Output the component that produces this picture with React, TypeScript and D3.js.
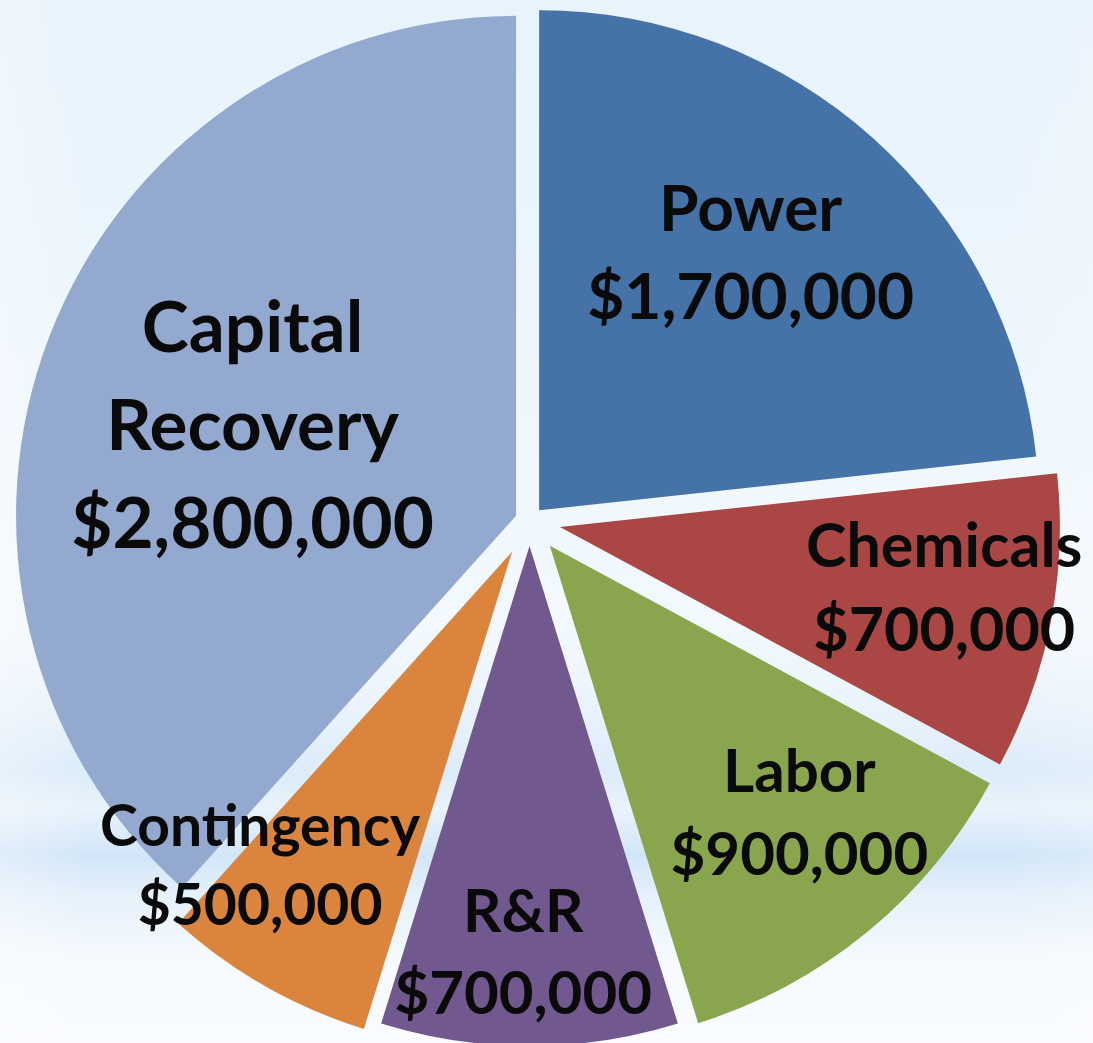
import React, { useEffect } from 'react';
import * as d3 from 'd3';

// ---- data ----
const categories = ["Power", "Chemicals", "Labor", "R&R", "Contingency", "Capital Recovery"];
const labelLines = [["Power"], ["Chemicals"], ["Labor"], ["R&R"], ["Contingency"], ["Capital", "Recovery"]];
const costs = [1700000, 700000, 900000, 700000, 500000, 2800000];

// ---- styles ----
const colors = ["#4572A7", "#AA4643", "#89A54E", "#71588F", "#DB843D", "#93A9CF"];
const explode = [14.4, 31, 32, 25, 35, 14.4];
const labelRadius = [331, 424, 413, 452, 453, 286];
const labelShiftDeg = [0, 0.9, -1.35, 0.8, 6.9, -6.5];
const labelSize = [64, 61, 60, 60, 57, 71];

const W = 1093;
const H = 1043;
const CX = 529.5;
const CY = 521;
const R = 500;
const FONT = "Lato, 'Open Sans', sans-serif";

export default function App() {
  useEffect(() => {
    document.body.style.margin = "0";
  }, []);

  const pie = d3.pie<number>().sort(null).value((d) => d).startAngle(0).endAngle(2 * Math.PI);
  const arcs = pie(costs);
  const arc = d3.arc<d3.PieArcDatum<number>>().innerRadius(0).outerRadius(R);
  const fmt = d3.format("$,");

  return (
    <svg width={W} height={H} style={{ display: "block", position: "absolute", left: 0, top: 0 }}>
      <defs>
        <linearGradient id="bg" x1="0" y1="0" x2="0" y2="1">
          <stop offset="0" stopColor="#E8F3FC" />
          <stop offset="0.4" stopColor="#EFF7FD" />
          <stop offset="0.6" stopColor="#F3F9FE" />
          <stop offset="0.68" stopColor="#EAF3FC" />
          <stop offset="0.74" stopColor="#DCECF9" />
          <stop offset="0.775" stopColor="#E9F3FB" />
          <stop offset="0.82" stopColor="#D2E6F8" />
          <stop offset="0.86" stopColor="#E6F1FB" />
          <stop offset="0.92" stopColor="#F6FAFE" />
          <stop offset="1" stopColor="#FAFCFF" />
        </linearGradient>
        <linearGradient id="bgx" x1="0" y1="0" x2="1" y2="0">
          <stop offset="0" stopColor="#FFFFFF" stopOpacity="0.3" />
          <stop offset="0.08" stopColor="#FFFFFF" stopOpacity="0" />
          <stop offset="0.92" stopColor="#FFFFFF" stopOpacity="0" />
          <stop offset="1" stopColor="#FFFFFF" stopOpacity="0.15" />
        </linearGradient>
      </defs>
      <rect x={0} y={0} width={W} height={H} fill="url(#bg)" />
      <rect x={0} y={0} width={W} height={H} fill="url(#bgx)" />
      <g transform={`translate(${CX},${CY})`}>
        {arcs.map((a, i) => {
          const mid = (a.startAngle + a.endAngle) / 2;
          const dx = Math.sin(mid) * explode[i];
          const dy = -Math.cos(mid) * explode[i];
          return (
            <path
              key={categories[i]}
              d={arc(a) || ""}
              transform={`translate(${dx},${dy})`}
              fill={colors[i]}
            />
          );
        })}
        {arcs.map((a, i) => {
          const mid = (a.startAngle + a.endAngle) / 2 + (labelShiftDeg[i] * Math.PI) / 180;
          const lx = Math.sin(mid) * labelRadius[i];
          const ly = -Math.cos(mid) * labelRadius[i];
          const lines = [...labelLines[i], fmt(costs[i])];
          const lh = labelSize[i] * 1.38;
          const n = lines.length;
          return (
            <text
              key={"l" + categories[i]}
              textAnchor="middle"
              fontFamily={FONT}
              fontWeight={700}
              fontSize={labelSize[i]}
              fill="#0a0a0a"
            >
              {lines.map((t, j) => (
                <tspan key={j} x={lx} y={ly + (j - (n - 1) / 2) * lh}>
                  {t}
                </tspan>
              ))}
            </text>
          );
        })}
      </g>
    </svg>
  );
}
